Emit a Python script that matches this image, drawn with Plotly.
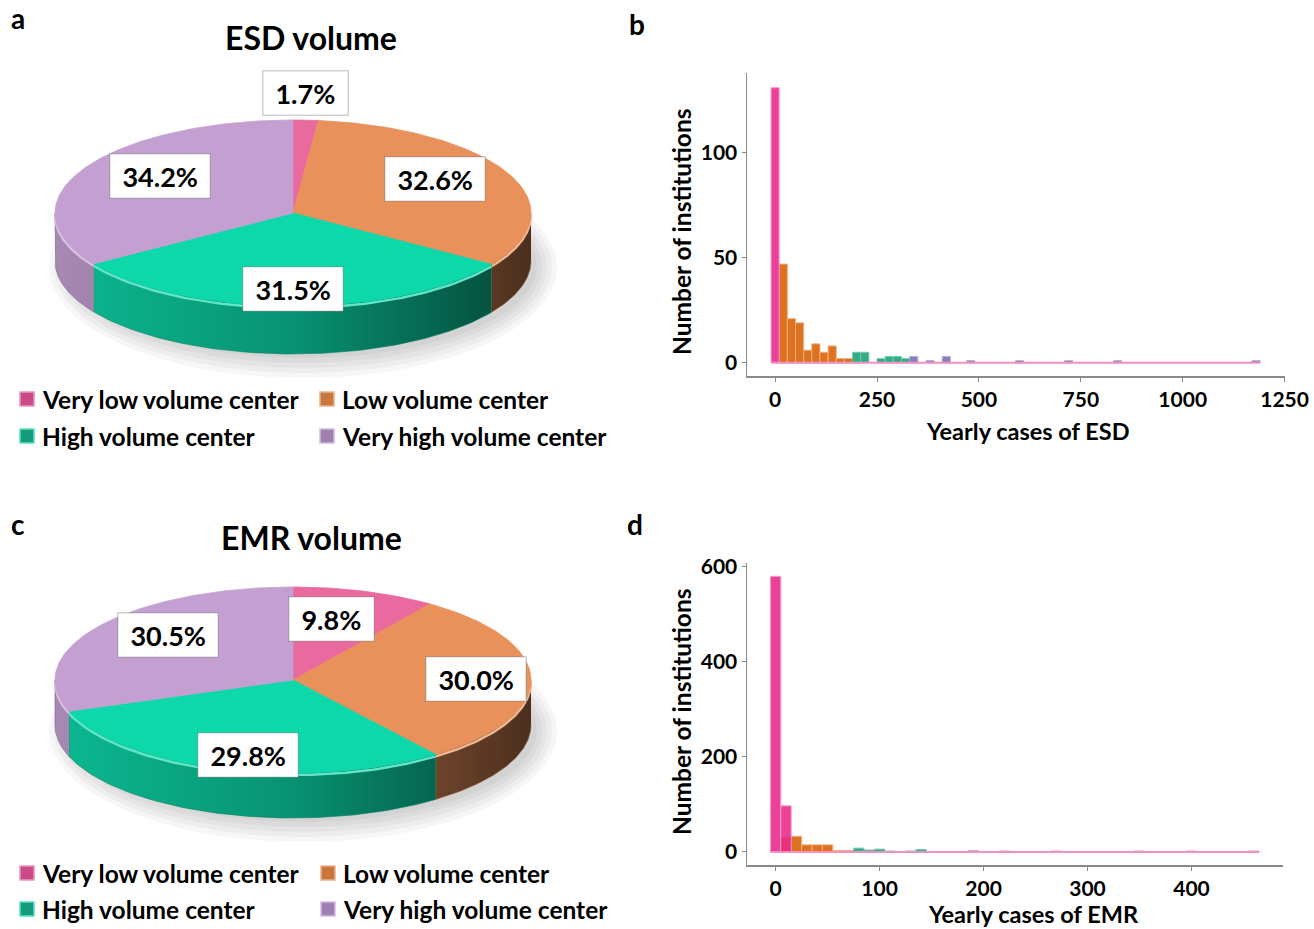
import numpy as np
import plotly.graph_objects as go

W, H = 1314, 929
FONT = "Lato"

# ---------------- data ----------------
CATEGORIES = ["Very low volume center", "Low volume center",
              "High volume center", "Very high volume center"]
ESD_PCT = [1.7, 32.6, 31.5, 34.2]
EMR_PCT = [9.8, 30.0, 29.8, 30.5]

# ESD histogram (bin width 20, bin centres)
ESD_BIN = 20
ESD_VLOW_X = [0]
ESD_VLOW_Y = [131]
ESD_LOW_X = [20, 40, 60, 80, 100, 120, 140, 160, 180]
ESD_LOW_Y = [47, 21, 19, 6, 9, 5, 8, 2, 2]
ESD_HIGH_X = [200, 220, 260, 280, 300, 320]
ESD_HIGH_Y = [5, 5, 2, 3, 3, 2]
ESD_VHIGH_X = [340, 380, 420, 480, 600, 720, 840, 1180]
ESD_VHIGH_Y = [3, 1, 3, 1, 1, 1, 1, 1]

# EMR histogram (bin width 10, bin centres)
EMR_BIN = 10
EMR_VLOW_X = [0, 10]
EMR_VLOW_Y = [580, 97]
EMR_LOW_X = [10, 20, 30, 40, 50, 60, 70, 90]
EMR_LOW_Y = [31, 33, 15, 15, 15, 3, 3, 3]
EMR_HIGH_X = [80, 90, 100, 110, 130, 140, 150]
EMR_HIGH_Y = [8, 4, 6, 2, 2, 5, 1]
EMR_VHIGH_X = [160, 170, 180, 190, 200, 210, 220, 270, 350, 400, 460]
EMR_VHIGH_Y = [1, 1, 1, 3, 1, 1, 2, 2, 2, 2, 2]

ESD_XTICKS = [0, 250, 500, 750, 1000, 1250]
ESD_YTICKS = [0, 50, 100]
EMR_XTICKS = [0, 100, 200, 300, 400]
EMR_YTICKS = [0, 200, 400, 600]

# ---------------- styles ----------------
PIE_TOP = ["#EA6AA0", "#E8915B", "#0DD8A9", "#C49FD2"]
LEG_COL = ["#C94A86", "#C8783F", "#149C7C", "#9F80B0"]
HIST_COL = ["#E7298A", "#D95F02", "#1B9E77", "#7570B3"]
HIST_EDGE = ["#F58FC0", "#F0A46A", "#5CC7A4", "#A9A4D8"]


def hex_rgb(h):
    h = h.lstrip("#")
    return int(h[0:2], 16), int(h[2:4], 16), int(h[4:6], 16)


def darken(h, f):
    r, g, b = hex_rgb(h)
    return f"rgb({int(r*f)},{int(g*f)},{int(b*f)})"


def lighten(h, f):
    r, g, b = hex_rgb(h)
    return f"rgb({int(r+(255-r)*f)},{int(g+(255-g)*f)},{int(b+(255-b)*f)})"


def px(x):
    return x / W


def py(y):
    return 1 - y / H


fig = go.Figure()
annotations = []


def add_pie(pcts, cx, cy, rx, ry, depth, label_r):
    total = float(sum(pcts))
    cum = np.concatenate([[0.0], np.cumsum(pcts) / total])
    # soft shadow
    for k in range(5):
        th = np.linspace(0, 2 * np.pi, 120)
        g = 6 + k * 5
        fig.add_trace(go.Scatter(
            x=cx + 10 + (rx + g - 10) * np.cos(th),
            y=cy + depth + 6 + (ry + g - 8) * np.sin(th),
            fill="toself", mode="lines", line=dict(width=0),
            fillcolor="rgba(0,0,0,0.035)", hoverinfo="skip",
            xaxis="x", yaxis="y", showlegend=False))
    # side walls
    for i in range(len(pcts)):
        a0 = 90 - 360 * cum[i]
        a1 = 90 - 360 * cum[i + 1]
        lo, hi = max(a1, -180), min(a0, 0)
        if hi > lo:
            th = np.radians(np.linspace(hi, lo, 90))
            xt = cx + rx * np.cos(th)
            yt = cy - ry * np.sin(th)
            xs = np.concatenate([xt, xt[::-1]])
            ys = np.concatenate([yt, yt[::-1] + depth])
            c = PIE_TOP[i]
            fig.add_trace(go.Scatter(
                x=xs, y=ys, fill="toself", mode="lines",
                line=dict(width=0.6, color=darken(c, 0.6)),
                fillgradient=dict(type="horizontal",
                                  colorscale=[[0, darken(c, 0.86)],
                                              [0.5, darken(c, 0.68)],
                                              [1, darken(c, 0.33)]],
                                  start=cx - rx, stop=cx + rx),
                hoverinfo="skip", xaxis="x", yaxis="y", showlegend=False))
            # rim highlight
            fig.add_trace(go.Scatter(
                x=xt, y=yt + 2, mode="lines",
                line=dict(width=2.5, color=lighten(c, 0.35)),
                hoverinfo="skip", xaxis="x", yaxis="y", showlegend=False))
    # top faces
    for i in range(len(pcts)):
        a0 = 90 - 360 * cum[i]
        a1 = 90 - 360 * cum[i + 1]
        n = max(8, int(abs(a0 - a1)))
        th = np.radians(np.linspace(a0, a1, n))
        xs = np.concatenate([[cx], cx + rx * np.cos(th), [cx]])
        ys = np.concatenate([[cy], cy - ry * np.sin(th), [cy]])
        fig.add_trace(go.Scatter(
            x=xs, y=ys, fill="toself", mode="lines",
            line=dict(width=0.8, color=PIE_TOP[i]), fillcolor=PIE_TOP[i],
            hoverinfo="skip", xaxis="x", yaxis="y", showlegend=False))
    # value labels (white boxes with a soft grey edge)
    for i, p in enumerate(pcts):
        mid = np.radians(90 - 360 * (cum[i] + cum[i + 1]) / 2)
        lx = cx + label_r[i] * rx * np.cos(mid)
        ly = cy - label_r[i] * ry * 1.3 * np.sin(mid)
        txt = f"&nbsp;<b>{p:.1f}%</b>&nbsp;"
        annotations.append(dict(
            x=lx, y=ly, xref="x", yref="y", text=txt, showarrow=False,
            xanchor="center", yanchor="middle",
            font=dict(family=FONT, size=27, color="black"),
            bgcolor="white", bordercolor="rgba(0,0,0,0.18)", borderwidth=1.5,
            borderpad=5))


def add_legend(y1, y2, xm1, xm2):
    pos = [(xm1, y1), (xm2, y1), (xm1, y2), (xm2, y2)]
    for i, (xx, yy) in enumerate(pos):
        fig.add_trace(go.Scatter(
            x=[xx], y=[yy], mode="markers",
            marker=dict(symbol="square", size=14, color=LEG_COL[i],
                        line=dict(width=1.5, color=lighten(PIE_TOP[i], 0.3))),
            hoverinfo="skip", xaxis="x", yaxis="y", showlegend=False))
        annotations.append(dict(
            x=xx + 13, y=yy, xref="x", yref="y", xanchor="left", yanchor="middle",
            text=f"<b>{CATEGORIES[i]}</b>", showarrow=False,
            font=dict(family=FONT, size=24.5, color="black")))


add_pie(ESD_PCT, 293, 213, 238, 93, 48, [0.99, 0.66, 0.63, 0.635])
add_pie(EMR_PCT, 293, 680, 238, 93, 45, [0.53, 0.77, 0.65, 0.64])
add_legend(399, 436, 27, 327)
add_legend(873, 909, 27, 328)


def add_hist(xs_list, ys_list, binw, xa, ya):
    order = [1, 2, 3, 0]
    for i in order:
        fig.add_trace(go.Bar(
            x=xs_list[i], y=ys_list[i], width=binw,
            marker=dict(color=HIST_COL[i], line=dict(color=HIST_EDGE[i], width=1)),
            opacity=0.88, xaxis=xa, yaxis=ya, showlegend=False,
            name=CATEGORIES[i]))
    allx = [v for xs in xs_list for v in xs]
    fig.add_trace(go.Scatter(
        x=[min(allx) - binw / 2, max(allx) + binw / 2], y=[0, 0], mode="lines",
        line=dict(color="#F58FC0", width=2), xaxis=xa, yaxis=ya,
        showlegend=False, hoverinfo="skip"))


add_hist([ESD_VLOW_X, ESD_LOW_X, ESD_HIGH_X, ESD_VHIGH_X],
         [ESD_VLOW_Y, ESD_LOW_Y, ESD_HIGH_Y, ESD_VHIGH_Y], ESD_BIN, "x2", "y2")
add_hist([EMR_VLOW_X, EMR_LOW_X, EMR_HIGH_X, EMR_VHIGH_X],
         [EMR_VLOW_Y, EMR_LOW_Y, EMR_HIGH_Y, EMR_VHIGH_Y], EMR_BIN, "x3", "y3")


def paper_text(txt, x, y, size, angle=0):
    annotations.append(dict(x=px(x), y=py(y), xref="paper", yref="paper",
                            xanchor="center", yanchor="middle", textangle=angle,
                            text=f"<b>{txt}</b>", showarrow=False,
                            font=dict(family=FONT, size=size, color="black")))


for txt, x, y in [("a", 18, 18), ("b", 637, 24), ("c", 18, 524), ("d", 635, 524)]:
    paper_text(txt, x, y, 28)
paper_text("ESD volume", 311, 37, 32)
paper_text("EMR volume", 311, 537, 32)
paper_text("Yearly cases of ESD", 1028, 431, 23.5)
paper_text("Yearly cases of EMR", 1033, 914, 23.5)
paper_text("Number of institutions", 681, 232, 24.5, -90)
paper_text("Number of institutions", 681, 712, 24.5, -90)

axis_common = dict(showline=True, linecolor="#8a8a8a", linewidth=1.5,
                   ticks="outside", ticklen=4, tickcolor="#8a8a8a",
                   showgrid=False, zeroline=False, automargin=False,
                   tickfont=dict(family=FONT, size=21, color="black", weight="bold"))

fig.update_layout(
    width=W, height=H, margin=dict(l=0, r=0, t=0, b=0, pad=0, autoexpand=False),
    paper_bgcolor="white", plot_bgcolor="rgba(0,0,0,0)",
    showlegend=False, barmode="overlay",
    xaxis=dict(domain=[0, 640 / W], range=[0, 640], visible=False,
               fixedrange=True, automargin=False),
    yaxis=dict(domain=[0, 1], range=[H, 0], visible=False,
               fixedrange=True, automargin=False),
    xaxis2=dict(domain=[px(747), px(1285)], range=[-69, 1251], anchor="y2",
                tickvals=ESD_XTICKS, **axis_common),
    yaxis2=dict(domain=[py(376), py(73)], range=[-6.3, 138], anchor="x2",
                tickvals=ESD_YTICKS, **axis_common),
    xaxis3=dict(domain=[px(747), px(1283)], range=[-27.5, 488], anchor="y3",
                tickvals=EMR_XTICKS, **axis_common),
    yaxis3=dict(domain=[py(865), py(563)], range=[-27.4, 608], anchor="x3",
                tickvals=EMR_YTICKS, **axis_common),
    annotations=annotations,
)

POST = ("var de=document.documentElement;de.style.margin='0px';de.style.padding='0px';"
        "de.style.overflow='hidden';de.style.height='929px';"
        "var bd=document.body;bd.style.margin='0px';bd.style.padding='0px';"
        "bd.style.overflow='hidden';bd.style.height='929px';"
        "var gd=document.getElementById('{plot_id}');"
        "gd.style.position='fixed';gd.style.left='0px';gd.style.top='0px';")
fig.write_html("out.html", post_script=POST,
               config={"displayModeBar": False, "staticPlot": True})
